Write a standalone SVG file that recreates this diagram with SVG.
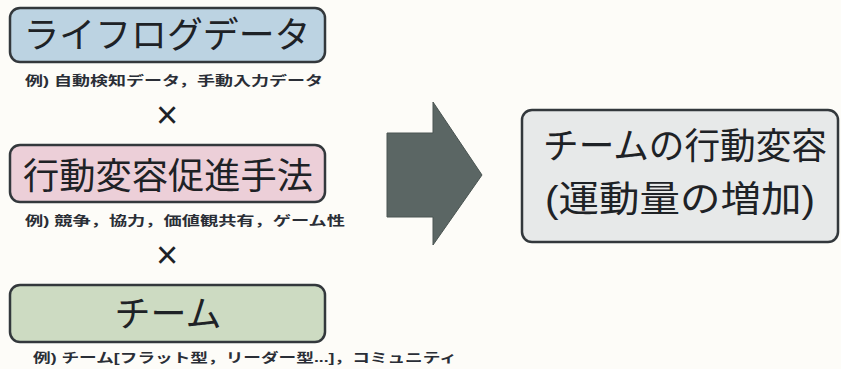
<svg xmlns="http://www.w3.org/2000/svg" width="841" height="369" viewBox="0 0 841 369">
<style>
.box{stroke:#33383c;stroke-width:2.5}
.big{font-family:"Liberation Sans","Noto Sans CJK JP",sans-serif;font-size:36px;fill:#1e2226;text-anchor:middle}
.ex{font-family:"Liberation Sans","Noto Sans CJK JP",sans-serif;font-size:13px;fill:#2a2e36;font-weight:bold}
.x{font-family:"Liberation Sans","Noto Sans CJK JP",sans-serif;font-size:38px;fill:#1e2226;text-anchor:middle}
</style>
<rect width="841" height="369" fill="#fdfcf8"/>
<g id="lifelog">
<rect class="box" x="10" y="8" width="315" height="54" rx="10" fill="#bcd3e2"/>
<text class="big" x="167" y="48" textLength="287" lengthAdjust="spacingAndGlyphs">ライフログデータ</text>
<text class="ex" x="25" y="85" textLength="298" lengthAdjust="spacingAndGlyphs">例) 自動検知データ，手動入力データ</text>
</g>
<text class="x" x="167" y="128">×</text>
<g id="method">
<rect class="box" x="10" y="145" width="315" height="57" rx="10" fill="#eccfd8"/>
<text class="big" x="168" y="189" textLength="290" lengthAdjust="spacingAndGlyphs">行動変容促進手法</text>
<text class="ex" x="25" y="225" textLength="320" lengthAdjust="spacingAndGlyphs">例) 競争，協力，価値観共有，ゲーム性</text>
</g>
<text class="x" x="167" y="268">×</text>
<g id="team">
<rect class="box" x="10" y="285" width="315" height="57" rx="10" fill="#cddbc2"/>
<text class="big" x="168" y="327">チーム</text>
<text class="ex" x="33" y="362" textLength="424" lengthAdjust="spacingAndGlyphs">例) チーム[フラット型，リーダー型...]，コミュニティ</text>
</g>
<g id="connectors">
<polygon points="387,133 433,133 433,102 482,175 433,245 433,217 387,217" fill="#5b6664" stroke="#4a5452" stroke-width="1"/>
</g>
<g id="result">
<rect class="box" x="522" y="110" width="316" height="132" rx="10" fill="#e7e9e9"/>
<text class="big" x="685" y="159" textLength="284" lengthAdjust="spacingAndGlyphs">チームの行動変容</text>
<text class="big" x="680" y="212" font-size="37" textLength="270" lengthAdjust="spacingAndGlyphs">(運動量の増加)</text>
</g>
</svg>
